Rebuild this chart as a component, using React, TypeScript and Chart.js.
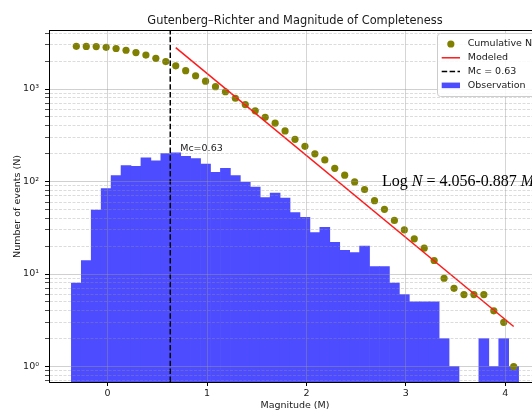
import React, { useEffect, useRef } from 'react';
import { Chart, registerables } from 'chart.js';

Chart.register(...registerables);

// ---------------- data ----------------
const TITLE = 'Gutenberg–Richter and Magnitude of Completeness';
const X_LABEL = 'Magnitude (M)';
const Y_LABEL = 'Number of events (N)';

const BIN_CENTERS = [
  -0.315, -0.215, -0.115, -0.015, 0.085, 0.185, 0.285, 0.385, 0.485, 0.585,
  0.685, 0.785, 0.885, 0.985, 1.085, 1.185, 1.285, 1.385, 1.485, 1.585,
  1.685, 1.785, 1.885, 1.985, 2.085, 2.185, 2.285, 2.385, 2.485, 2.585,
  2.685, 2.785, 2.885, 2.985, 3.085, 3.185, 3.285, 3.385, 3.485, 3.585,
  3.685, 3.785, 3.885, 3.985, 4.085,
];
const OBSERVED = [
  8, 14, 49, 84, 116, 149, 146, 180, 167, 200,
  204, 187, 177, 154, 126, 139, 116, 98, 87, 67,
  75, 66, 46, 41, 28, 32, 22, 18, 17, 20,
  12, 12, 8, 6, 5, 5, 5, 2, 1, 0,
  0, 2, 1, 2, 1,
];
const CUMULATIVE = [
  2895, 2887, 2873, 2824, 2740, 2624, 2475, 2329, 2149, 1982,
  1782, 1578, 1391, 1214, 1060, 934, 795, 679, 581, 494,
  427, 352, 286, 240, 199, 171, 139, 117, 99, 82,
  62, 50, 38, 30, 24, 19, 14, 9, 7, 6,
  6, 6, 4, 3, 1,
];
const MODEL_M = [0.685, 4.085];
const MODEL_N = [2805, 2.71];
const MC = 0.63;
const MC_TEXT = 'Mc=0.63';
const MC_TEXT_AT = [0.73, 204];
const EQUATION: [string, boolean][] = [['Log ', false], ['N', true], [' = 4.056-0.887 ', false], ['M', true]];
const EQUATION_AT = [2.76, 89];

const X_MIN = -0.59;
const X_MAX = 4.36;
const Y_MIN = 0.68;
const Y_MAX = 4240;
const X_TICKS = [0, 1, 2, 3, 4];
const Y_MAJOR_TICKS = [1, 10, 100, 1000];
const Y_MAJOR_LABELS = ['10⁰', '10¹', '10²', '10³'];
const Y_MINOR_TICKS = [
  0.7, 0.8, 0.9, 2, 3, 4, 5, 6, 7, 8, 9, 20, 30, 40, 50, 60, 70, 80, 90,
  200, 300, 400, 500, 600, 700, 800, 900, 2000, 3000, 4000,
];

// ---------------- styles ----------------
const OLIVE = '#808000';
const RED = '#ff1a1a';
const BLUE = 'rgb(77,77,255)';
const TEXT = '#1a1a1a';
const MAJOR_GRID = 'rgba(150,150,150,0.5)';
const MINOR_GRID = 'rgba(150,150,150,0.42)';
const FONT = '"DejaVu Sans", sans-serif';

const overlayPlugin = {
  id: 'overlay',
  afterDraw(chart: any) {
    const { ctx, chartArea: a, scales } = chart;
    const xs = scales.x;
    const ys = scales.y;
    ctx.save();

    // top / right spines
    ctx.strokeStyle = '#000';
    ctx.lineWidth = 1;
    const t = Math.round(a.top - 0.5) + 0.5;
    const r = Math.round(a.right - 0.5) + 0.5;
    ctx.beginPath();
    ctx.moveTo(a.left, t);
    ctx.lineTo(r, t);
    ctx.lineTo(r, a.bottom);
    ctx.stroke();

    // Mc annotation
    ctx.font = `9.5px ${FONT}`;
    ctx.fillStyle = TEXT;
    ctx.textAlign = 'left';
    ctx.textBaseline = 'bottom';
    ctx.fillText(MC_TEXT, xs.getPixelForValue(MC_TEXT_AT[0]), ys.getPixelForValue(MC_TEXT_AT[1]));

    // equation
    let ex = xs.getPixelForValue(EQUATION_AT[0]);
    const ey = ys.getPixelForValue(EQUATION_AT[1]);
    ctx.fillStyle = '#000';
    ctx.textBaseline = 'alphabetic';
    for (const [txt, ital] of EQUATION) {
      ctx.font = `${ital ? 'italic ' : ''}16px "Liberation Serif", "Times New Roman", serif`;
      ctx.fillText(txt, ex, ey);
      ex += ctx.measureText(txt).width;
    }

    // legend
    const lw = 99;
    const lh = 63;
    const lx = a.right - 5 - lw;
    const ly = a.top + 2;
    ctx.beginPath();
    if (ctx.roundRect) ctx.roundRect(lx + 0.5, ly + 0.5, lw, lh, 3);
    else ctx.rect(lx + 0.5, ly + 0.5, lw, lh);
    ctx.fillStyle = 'rgba(255,255,255,0.85)';
    ctx.fill();
    ctx.strokeStyle = '#cccccc';
    ctx.lineWidth = 1;
    ctx.stroke();

    const ds = chart.data.datasets;
    const order = [1, 2, 3, 0];
    order.forEach((di: number, row: number) => {
      const d = ds[di];
      const cy = ly + 11 + row * 13.8;
      const hx0 = lx + 4.7;
      const hx1 = lx + 23;
      if (d.type === 'scatter') {
        ctx.beginPath();
        ctx.arc((hx0 + hx1) / 2, cy, 3.6, 0, Math.PI * 2);
        ctx.fillStyle = d.backgroundColor;
        ctx.fill();
      } else if (d.type === 'line') {
        ctx.beginPath();
        ctx.setLineDash(d.borderDash || []);
        ctx.strokeStyle = d.borderColor;
        ctx.lineWidth = d.borderWidth;
        ctx.moveTo(hx0, cy);
        ctx.lineTo(hx1, cy);
        ctx.stroke();
        ctx.setLineDash([]);
      } else {
        ctx.fillStyle = d.backgroundColor;
        ctx.fillRect(hx0, cy - 2.8, hx1 - hx0, 5.6);
      }
      ctx.font = `9.5px ${FONT}`;
      ctx.fillStyle = TEXT;
      ctx.textAlign = 'left';
      ctx.textBaseline = 'middle';
      ctx.fillText(d.label, lx + 30.7, cy);
    });

    ctx.restore();
  },
};

export default function App() {
  const ref = useRef<HTMLCanvasElement>(null);

  useEffect(() => {
    if (!ref.current) return;
    Chart.defaults.font.family = FONT;

    const yTicks = [
      ...Y_MAJOR_TICKS.map((v) => ({ value: v, major: true })),
      ...Y_MINOR_TICKS.map((v) => ({ value: v, major: false })),
    ].sort((p, q) => p.value - q.value);

    const chart = new Chart(ref.current, {
      type: 'scatter',
      data: {
        datasets: [
          {
            type: 'bar',
            label: 'Observation',
            data: BIN_CENTERS.map((m, i) => ({ x: m, y: OBSERVED[i] > 0 ? OBSERVED[i] : null })),
            backgroundColor: BLUE,
            borderWidth: 0,
            barPercentage: 1,
            categoryPercentage: 1,
            order: 10,
          },
          {
            type: 'scatter',
            label: 'Cumulative N',
            data: BIN_CENTERS.map((m, i) => ({ x: m, y: CUMULATIVE[i] })),
            backgroundColor: OLIVE,
            borderColor: OLIVE,
            pointRadius: 3.6,
            pointBorderWidth: 0,
            order: 3,
          },
          {
            type: 'line',
            label: 'Modeled',
            data: MODEL_M.map((m, i) => ({ x: m, y: MODEL_N[i] })),
            borderColor: RED,
            backgroundColor: RED,
            borderWidth: 1.5,
            pointRadius: 0,
            fill: false,
            order: 1,
          },
          {
            type: 'line',
            label: 'Mc = 0.63',
            data: [
              { x: MC, y: Y_MIN },
              { x: MC, y: Y_MAX },
            ],
            borderColor: '#000',
            backgroundColor: '#000',
            borderWidth: 1.5,
            borderDash: [5.5, 2.4],
            pointRadius: 0,
            fill: false,
            order: 2,
          },
        ] as any,
      },
      options: {
        animation: false,
        responsive: false,
        devicePixelRatio: 1,
        layout: { padding: { left: 0, right: 49, top: 0, bottom: 0 } },
        plugins: {
          legend: { display: false },
          tooltip: { enabled: false },
          title: {
            display: true,
            fullSize: false,
            text: TITLE,
            color: TEXT,
            font: { family: FONT, size: 11.4, weight: 'normal' },
            padding: { top: 14, bottom: 3.3 },
          },
        },
        scales: {
          x: {
            type: 'linear',
            position: 'bottom',
            min: X_MIN,
            max: X_MAX,
            offset: false,
            afterBuildTicks: (s: any) => {
              s.ticks = X_TICKS.map((v) => ({ value: v }));
            },
            afterFit: (s: any) => {
              s.height = 30;
            },
            ticks: {
              autoSkip: false,
              maxRotation: 0,
              padding: 2,
              color: TEXT,
              font: { size: 9.5 },
              callback: (v: any) => String(v),
            },
            grid: {
              z: 1,
              offset: false,
              color: MAJOR_GRID,
              lineWidth: 0.8,
              tickColor: '#000',
              tickLength: 4,
              tickWidth: 1,
            },
            border: { display: true, color: '#000', width: 1, z: 2 },
            title: {
              display: true,
              text: X_LABEL,
              color: TEXT,
              font: { size: 9.5 },
              padding: { top: 0, bottom: 0.5 },
            },
          },
          y: {
            type: 'logarithmic',
            position: 'left',
            min: Y_MIN,
            max: Y_MAX,
            afterBuildTicks: (s: any) => {
              s.ticks = yTicks.map((t) => ({ ...t }));
            },
            afterFit: (s: any) => {
              s.width = 49;
            },
            ticks: {
              autoSkip: false,
              padding: 6,
              color: TEXT,
              font: { size: 9.5 },
              callback: (v: any) => {
                const k = Y_MAJOR_TICKS.indexOf(Number(v));
                return k >= 0 ? Y_MAJOR_LABELS[k] : '';
              },
            },
            grid: {
              z: 1,
              color: (c: any) => (c.tick && c.tick.major ? MAJOR_GRID : MINOR_GRID),
              lineWidth: (c: any) => (c.tick && c.tick.major ? 0.9 : 0.8),
              tickColor: '#000',
              tickLength: 4,
              tickWidth: (c: any) => (c.tick && c.tick.major ? 1 : 0.7),
            },
            border: {
              display: true,
              color: '#000',
              width: 1,
              z: 2,
              dash: (c: any) => (c.tick && !c.tick.major ? [3, 1.5] : []),
            },
            title: {
              display: true,
              text: Y_LABEL,
              color: TEXT,
              font: { size: 9.5 },
              padding: { top: 12.3, bottom: 0 },
            },
          },
        },
      } as any,
      plugins: [overlayPlugin],
    });

    return () => chart.destroy();
  }, []);

  return (
    <div
      style={{
        position: 'fixed',
        left: 0,
        top: 0,
        width: 532,
        height: 412,
        overflow: 'hidden',
        background: '#fff',
      }}
    >
      <canvas ref={ref} width={590} height={412} style={{ display: 'block', width: 590, height: 412 }} />
    </div>
  );
}
